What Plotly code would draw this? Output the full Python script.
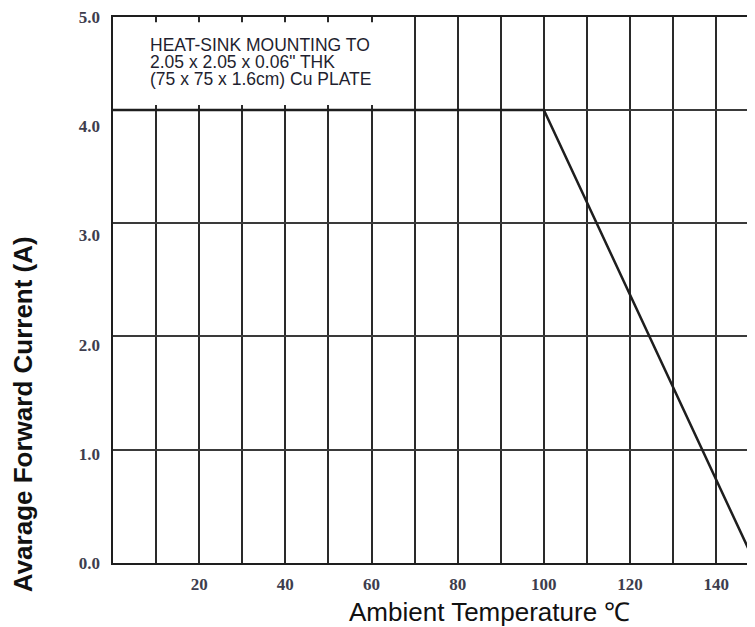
import plotly.graph_objects as go

# Data
temperature = [0, 100, 149]          # Ambient temperature (°C)
current = [4.0, 4.0, 0.0]            # Average forward current (A)

x_tick_vals = [20, 40, 60, 80, 100, 120, 140]
x_tick_text = ["20", "40", "60", "80", "100", "120", "140"]
y_grid_vals = [0, 1, 2, 3, 4]
y_label_vals = [0, 1, 2, 3, 4, 5]
y_label_text = ["0.0", "1.0", "2.0", "3.0", "4.0", "5.0"]
note_lines = ["HEAT-SINK MOUNTING TO",
              "2.05 x 2.05 x 0.06\" THK",
              "(75 x 75 x 1.6cm) Cu PLATE"]

GRID = "#2a2a2a"
TICKFONT = dict(family="Liberation Serif", size=17, color="#3d3d4d", weight="bold")

fig = go.Figure()
fig.add_trace(go.Scatter(x=temperature, y=current, mode="lines",
                         line=dict(color="#1e1e1e", width=2.5),
                         showlegend=False, hoverinfo="skip"))
# invisible trace to activate label axis
fig.add_trace(go.Scatter(x=[None], y=[None], yaxis="y2", showlegend=False))

fig.update_layout(
    width=747, height=619,
    margin=dict(l=105, r=0, t=7, b=64),
    paper_bgcolor="white", plot_bgcolor="white",
    xaxis=dict(range=[0, 149], tickvals=x_tick_vals, ticktext=x_tick_text,
               showgrid=True, gridcolor=GRID, gridwidth=1.5,
               minor=dict(dtick=10, tick0=0, showgrid=True, gridcolor=GRID, gridwidth=1.5),
               showline=True, linecolor="#1e1e1e", linewidth=2, mirror=True,
               zeroline=False, ticks="", tickfont=TICKFONT, ticklabelstandoff=5,
               ticklabeloverflow="allow"),
    yaxis=dict(range=[0, 4.82], tickvals=y_grid_vals, showticklabels=False,
               showgrid=True, gridcolor="#3a3a3a", gridwidth=1.5,
               showline=True, linecolor="#1e1e1e", linewidth=2,
               zeroline=False, ticks=""),
    yaxis2=dict(range=[0, 5], overlaying="y", side="left", tickvals=y_label_vals,
                ticktext=y_label_text, showgrid=False, zeroline=False, showline=False,
                ticks="", tickfont=TICKFONT, ticklabelstandoff=12,
                ticklabeloverflow="allow"),
)

# white note box interrupting the gridlines
fig.add_shape(type="rect", xref="x", yref="y", x0=0.5, x1=69.6, y0=4.044, y1=4.774,
              fillcolor="white", line=dict(width=0), layer="above")

for line, yv in zip(note_lines, [4.571, 4.422, 4.273]):
    fig.add_annotation(x=8.2, y=yv, xref="x", yref="y", text=line, showarrow=False,
                       xanchor="left", yanchor="middle",
                       font=dict(family="Liberation Sans", size=17.5, color="#1f1f2f"))

fig.add_annotation(x=0.5857, y=-0.0903, xref="paper", yref="paper",
                   text="Ambient Temperature ℃", showarrow=False,
                   xanchor="center", yanchor="middle",
                   font=dict(family="Liberation Sans", size=26, color="#111111"))
fig.add_annotation(x=-0.14, y=0.2728, xref="paper", yref="paper",
                   text="<b>Avarage Forward Current (A)</b>", showarrow=False,
                   textangle=-90, xanchor="center", yanchor="middle",
                   font=dict(family="Liberation Sans", size=26, color="#111111"))

fig.write_html("out.html")
